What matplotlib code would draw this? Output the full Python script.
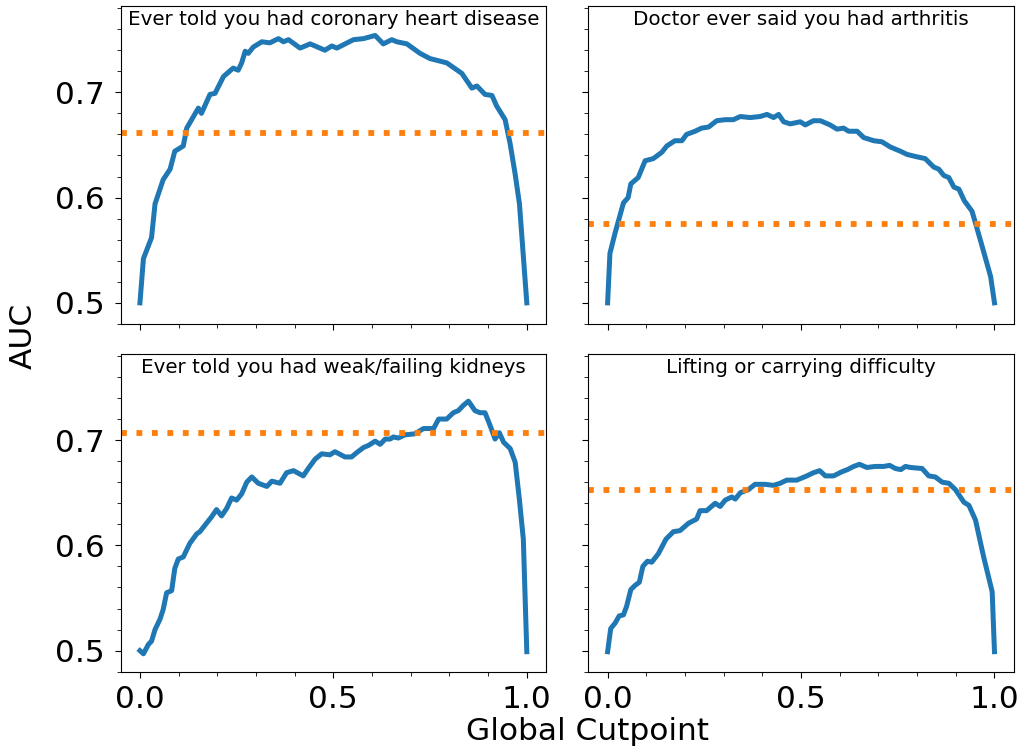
import matplotlib
matplotlib.use("Agg")
import matplotlib.pyplot as plt
from matplotlib.ticker import MultipleLocator

titles = ["Ever told you had coronary heart disease",
          "Doctor ever said you had arthritis",
          "Ever told you had weak/failing kidneys",
          "Lifting or carrying difficulty"]

chd_x = [0.0, 0.009, 0.03, 0.039, 0.06, 0.078, 0.09, 0.112, 0.121, 0.151, 0.159, 0.181, 0.194, 0.216,
         0.241, 0.254, 0.263, 0.272, 0.28, 0.293, 0.315, 0.336, 0.358, 0.371, 0.384, 0.414, 0.44,
         0.478, 0.496, 0.509, 0.552, 0.578, 0.608, 0.629, 0.651, 0.664, 0.69, 0.724, 0.75, 0.793,
         0.832, 0.858, 0.871, 0.892, 0.91, 0.922, 0.944, 0.957, 0.97, 0.981, 1.0]
chd_y = [0.5, 0.542, 0.562, 0.594, 0.617, 0.627, 0.644, 0.649, 0.666, 0.685, 0.680, 0.698, 0.699, 0.715,
         0.723, 0.721, 0.728, 0.739, 0.737, 0.743, 0.748, 0.747, 0.751, 0.748, 0.750, 0.742, 0.746,
         0.740, 0.744, 0.742, 0.750, 0.751, 0.754, 0.746, 0.750, 0.748, 0.746, 0.737, 0.732, 0.728,
         0.718, 0.704, 0.706, 0.698, 0.697, 0.687, 0.674, 0.651, 0.622, 0.594, 0.5]
chd_base = 0.661

art_x = [0.0, 0.006, 0.019, 0.041, 0.053, 0.06, 0.079, 0.097, 0.118, 0.14, 0.153, 0.174, 0.192, 0.204,
         0.226, 0.243, 0.261, 0.282, 0.304, 0.325, 0.343, 0.368, 0.394, 0.412, 0.429, 0.442, 0.455,
         0.472, 0.498, 0.511, 0.532, 0.55, 0.575, 0.593, 0.61, 0.623, 0.645, 0.662, 0.688, 0.709,
         0.731, 0.757, 0.774, 0.796, 0.821, 0.843, 0.856, 0.869, 0.882, 0.895, 0.908, 0.922, 0.942,
         0.964, 0.99, 1.0]
art_y = [0.5, 0.547, 0.566, 0.595, 0.600, 0.613, 0.619, 0.635, 0.637, 0.643, 0.649, 0.654, 0.654, 0.660,
         0.663, 0.666, 0.667, 0.673, 0.674, 0.674, 0.677, 0.676, 0.677, 0.679, 0.676, 0.679, 0.672,
         0.670, 0.672, 0.669, 0.673, 0.673, 0.669, 0.665, 0.666, 0.663, 0.663, 0.657, 0.654, 0.653,
         0.648, 0.644, 0.641, 0.639, 0.637, 0.629, 0.627, 0.621, 0.619, 0.610, 0.608, 0.597, 0.587,
         0.559, 0.525, 0.5]
art_base = 0.575

kid_x = [0.0, 0.009, 0.022, 0.03, 0.039, 0.052, 0.06, 0.069, 0.082, 0.09, 0.099, 0.112, 0.129, 0.147,
         0.155, 0.172, 0.185, 0.198, 0.211, 0.224, 0.237, 0.25, 0.263, 0.276, 0.289, 0.306, 0.328,
         0.341, 0.362, 0.379, 0.397, 0.422, 0.435, 0.453, 0.47, 0.491, 0.504, 0.53, 0.547, 0.56,
         0.578, 0.591, 0.608, 0.621, 0.634, 0.647, 0.655, 0.668, 0.685, 0.711, 0.733, 0.759, 0.772,
         0.793, 0.81, 0.823, 0.836, 0.849, 0.866, 0.879, 0.892, 0.905, 0.918, 0.929, 0.94, 0.957,
         0.97, 0.981, 0.991, 1.0]
kid_y = [0.5, 0.497, 0.506, 0.509, 0.520, 0.530, 0.539, 0.555, 0.557, 0.578, 0.587, 0.589, 0.602, 0.611,
         0.613, 0.621, 0.627, 0.634, 0.628, 0.635, 0.645, 0.643, 0.649, 0.660, 0.665, 0.659, 0.656,
         0.661, 0.659, 0.669, 0.671, 0.666, 0.673, 0.682, 0.687, 0.686, 0.689, 0.684, 0.684, 0.688,
         0.693, 0.695, 0.699, 0.696, 0.701, 0.701, 0.703, 0.702, 0.705, 0.706, 0.711, 0.711, 0.720,
         0.720, 0.726, 0.728, 0.733, 0.737, 0.728, 0.726, 0.726, 0.714, 0.701, 0.707, 0.698, 0.692,
         0.679, 0.643, 0.606, 0.499]
kid_base = 0.707

lif_x = [0.0, 0.008, 0.019, 0.03, 0.041, 0.049, 0.06, 0.071, 0.082, 0.091, 0.103, 0.114, 0.131, 0.151,
         0.17, 0.187, 0.209, 0.23, 0.239, 0.256, 0.278, 0.291, 0.304, 0.321, 0.33, 0.343, 0.364,
         0.381, 0.407, 0.429, 0.446, 0.463, 0.489, 0.515, 0.532, 0.548, 0.563, 0.584, 0.606, 0.62,
         0.636, 0.651, 0.67, 0.692, 0.714, 0.729, 0.744, 0.758, 0.77, 0.783, 0.813, 0.83, 0.847,
         0.865, 0.882, 0.899, 0.921, 0.934, 0.951, 0.972, 0.994, 1.0]
lif_y = [0.499, 0.521, 0.526, 0.533, 0.534, 0.542, 0.558, 0.562, 0.565, 0.580, 0.585, 0.584, 0.592, 0.606,
         0.613, 0.614, 0.621, 0.625, 0.633, 0.633, 0.640, 0.637, 0.643, 0.646, 0.644, 0.650, 0.653,
         0.658, 0.658, 0.657, 0.659, 0.662, 0.662, 0.666, 0.669, 0.671, 0.666, 0.666, 0.670, 0.672,
         0.675, 0.677, 0.674, 0.675, 0.675, 0.676, 0.673, 0.672, 0.675, 0.674, 0.673, 0.666, 0.665,
         0.660, 0.659, 0.653, 0.641, 0.638, 0.624, 0.589, 0.556, 0.499]
lif_base = 0.653

series = [(chd_x, chd_y, chd_base), (art_x, art_y, art_base),
          (kid_x, kid_y, kid_base), (lif_x, lif_y, lif_base)]

fig, axes = plt.subplots(2, 2, figsize=(10.22, 7.48), dpi=100, sharex=True, sharey=True)
fig.subplots_adjust(left=0.118, right=0.992, top=0.992, bottom=0.102, wspace=0.099, hspace=0.094)

for ax, (x, y, base), title in zip(axes.flat, series, titles):
    ax.plot(x, y, color="#1f77b4", lw=3.6, solid_joinstyle="round")
    ax.axhline(base, color="#ff7f0e", lw=4.2, ls=":")
    ax.text(0.5, 0.988, title, transform=ax.transAxes, ha="center", va="top", fontsize=14.3)
    ax.set_xlim(-0.05, 1.05)
    ax.set_ylim(0.48, 0.782)
    ax.xaxis.set_major_locator(MultipleLocator(0.5))
    ax.xaxis.set_minor_locator(MultipleLocator(0.1))
    ax.yaxis.set_major_locator(MultipleLocator(0.1))
    ax.yaxis.set_minor_locator(MultipleLocator(0.02))
    ax.tick_params(axis="both", which="major", labelsize=22.5, length=4.5)
    ax.tick_params(axis="y", which="major", pad=7)
    ax.tick_params(axis="x", which="major", pad=5)
    ax.tick_params(axis="both", which="minor", length=3)

fig.text(0.023, 0.551, "AUC", rotation=90, ha="center", va="center", fontsize=22.5)
fig.text(0.575, 0.022, "Global Cutpoint", ha="center", va="center", fontsize=22.5)

fig.savefig("out.png", dpi=100)
